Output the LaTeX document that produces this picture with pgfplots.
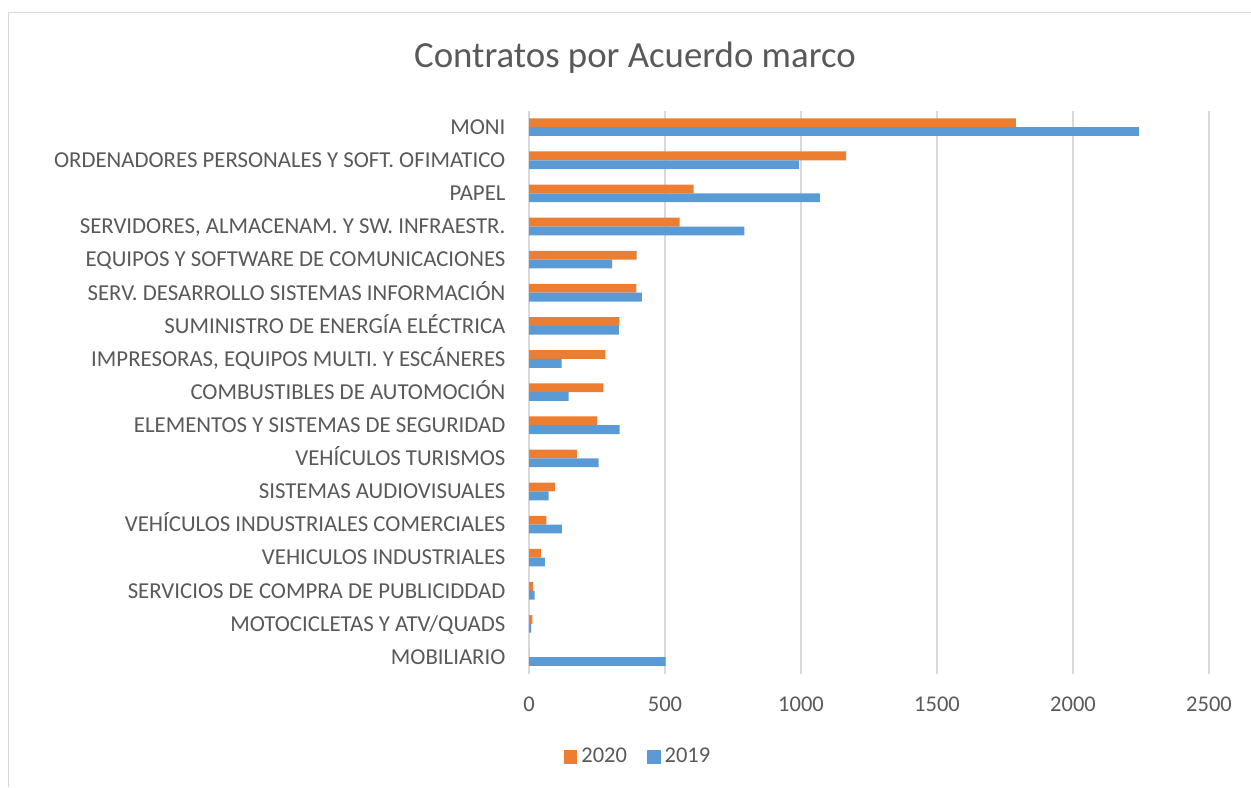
\documentclass[border=0pt]{standalone}
\usepackage{pgfplots}
\pgfplotsset{compat=1.18}
\usepackage{fontspec}
\setmainfont{Carlito}
\definecolor{orng}{HTML}{ED7D31}
\definecolor{blu}{HTML}{5B9BD5}
\definecolor{txt}{HTML}{595959}
\definecolor{grd}{HTML}{D9D9D9}
\pgfplotstableread{
idx y2020 y2019
0 0 502
1 12 8
2 15 21
3 45 58
4 64 121
5 96 72
6 176 256
7 250 333
8 273 146
9 281 120
10 332 330
11 395 415
12 396 306
13 554 792
14 605 1069
15 1166 993
16 1790 2242
}\datatable
\begin{document}
\begin{tikzpicture}
\useasboundingbox (0pt,0pt) rectangle (625.5pt,393.5pt);
\draw[grd, line width=0.8pt] (4.25pt,0pt) -- (4.25pt,387.25pt) -- (625.5pt,387.25pt);
\node[anchor=base, text=txt, font=\fontsize{18.4}{22}\selectfont] at (317.5pt,359.5pt) {Contratos por Acuerdo marco};
\begin{axis}[
  at={(264.5pt,56.7pt)}, anchor=south west,
  scale only axis,
  width=340pt, height=281.5pt,
  xmin=0, xmax=2500, ymin=-0.5, ymax=16.5,
  xtick={0,500,1000,1500,2000,2500},
  ytick={0,...,16},
  yticklabels={MOBILIARIO, MOTOCICLETAS Y ATV/QUADS, SERVICIOS DE COMPRA DE PUBLICIDDAD, VEHICULOS INDUSTRIALES, VEHÍCULOS INDUSTRIALES COMERCIALES, SISTEMAS AUDIOVISUALES, VEHÍCULOS TURISMOS, ELEMENTOS Y SISTEMAS DE SEGURIDAD, COMBUSTIBLES DE AUTOMOCIÓN, {IMPRESORAS, EQUIPOS MULTI. Y ESCÁNERES}, SUMINISTRO DE ENERGÍA ELÉCTRICA, SERV. DESARROLLO SISTEMAS INFORMACIÓN, EQUIPOS Y SOFTWARE DE COMUNICACIONES, {SERVIDORES, ALMACENAM. Y SW. INFRAESTR.}, PAPEL, ORDENADORES PERSONALES Y SOFT. OFIMATICO, MONI},
  /pgf/number format/assume math mode=true,
  /pgf/number format/1000 sep={},
  axis line style={draw=none},
  tick style={draw=none},
  major tick length=0pt,
  xmajorgrids, grid style={grd, line width=1pt},
  tick label style={text=txt, font=\fontsize{11.25}{13}\selectfont},
  xticklabel style={yshift=-8pt},
  yticklabel style={xshift=-8.25pt, font=\fontsize{11.4}{13}\selectfont, text height=7.3pt, text depth=0pt},
  xbar, bar width=4.4pt,
  legend style={at={(0.1618,-0.148)}, anchor=center, draw=none, fill=none,
    text=txt, font=\fontsize{11.25}{13}\selectfont,
    legend columns=2,
    /tikz/every even column/.append style={column sep=8pt}},
  legend image code/.code={\fill[#1] (0pt,-3.4pt) rectangle (6.8pt,3.4pt);},
]
\addplot[fill=orng, draw=none, bar shift=2.2pt] table[x=y2020, y=idx] {\datatable};
\addplot[fill=blu, draw=none, bar shift=-2.2pt] table[x=y2019, y=idx] {\datatable};
\legend{2020,2019}
\end{axis}
\end{tikzpicture}
\end{document}
